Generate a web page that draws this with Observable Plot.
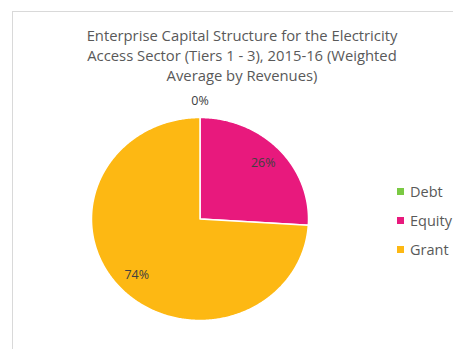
<!DOCTYPE html>
<html>
<head>
<meta charset="utf-8">
<script src="https://cdn.jsdelivr.net/npm/d3@7"></script>
<script src="https://cdn.jsdelivr.net/npm/@observablehq/plot@0.6"></script>
<style>
  html, body { margin: 0; padding: 0; background: #fff; }
  #wrap { position: relative; width: 453px; height: 349px; overflow: hidden; font-family: "Open Sans", sans-serif; }
  #frame { position: absolute; left: 12px; top: 11px; width: 460px; height: 360px; border-top: 1px solid #d9d9d9; border-left: 1px solid #d9d9d9; box-sizing: border-box; }
  #title { position: absolute; left: 31px; width: 422px; top: 26px; text-align: center; color: #595959; font-size: 14.8px; line-height: 19.8px; }
  #chart { position: absolute; left: 0; top: 0; }
  #legend { position: absolute; left: 397px; top: 177px; color: #595959; font-size: 14.5px; }
  .item { display: flex; align-items: center; height: 29px; }
  .sw { width: 7px; height: 7px; margin-right: 6px; }
</style>
</head>
<body>
<div id="wrap">
  <div id="frame"></div>
  <div id="chart"></div>
  <div id="title"></div>
  <div id="legend"></div>
</div>
<script>
const titleLines = ["Enterprise Capital Structure for the Electricity", "Access Sector (Tiers 1 - 3), 2015-16 (Weighted", "Average by Revenues)"];
const categories = ["Debt", "Equity", "Grant"];
const shares = [0, 26, 74];
const colors = ["#7ac943", "#e8197d", "#fdb813"];

document.getElementById("title").innerHTML = titleLines.join("<br>");

// slices (clockwise from 12 o'clock)
const total = d3.sum(shares);
let acc = 0;
const slices = categories.map((c, i) => {
  const a0 = acc / total * 2 * Math.PI;
  acc += shares[i];
  const a1 = acc / total * 2 * Math.PI;
  return {category: c, value: shares[i], a0, a1};
});

const outline = [];
for (const s of slices) {
  if (s.value === 0) continue;
  outline.push({category: s.category, x: 0, y: 0});
  const n = Math.max(2, Math.ceil((s.a1 - s.a0) / 0.01));
  for (let k = 0; k <= n; k++) {
    const a = s.a0 + (s.a1 - s.a0) * k / n;
    outline.push({category: s.category, x: Math.sin(a), y: Math.cos(a)});
  }
  outline.push({category: s.category, x: 0, y: 0});
}

const labels = slices.map(s => {
  const m = (s.a0 + s.a1) / 2;
  const r = s.value > 0 ? 0.8 : 1.16;
  return {text: s.value + "%", x: r * Math.sin(m), y: r * Math.cos(m)};
});

const chart = Plot.plot({
  width: 453,
  height: 349,
  margin: 0,
  style: {fontFamily: "Open Sans, sans-serif", background: "transparent"},
  x: {domain: [-1, 1], range: [91, 308], axis: null},
  y: {domain: [-1, 1], range: [320, 117], axis: null},
  color: {domain: categories, range: colors},
  marks: [
    Plot.line(outline, {x: "x", y: "y", z: "category", fill: "category", stroke: "white", strokeWidth: 1.5, strokeLinejoin: "round"}),
    Plot.text(labels, {x: "x", y: "y", text: "text", fill: "#404040", fontSize: 12.5})
  ]
});
document.getElementById("chart").appendChild(chart);

const legend = document.getElementById("legend");
categories.forEach((c, i) => {
  const it = document.createElement("div");
  it.className = "item";
  it.innerHTML = `<span class="sw" style="background:${colors[i]}"></span><span>${c}</span>`;
  legend.appendChild(it);
});
</script>
</body>
</html>
